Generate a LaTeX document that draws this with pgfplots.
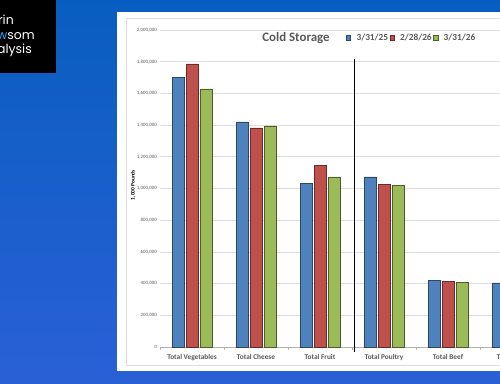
\documentclass[border=0pt]{standalone}
\usepackage{pgfplots}
\pgfplotsset{compat=1.18}
\usepackage{fontspec}
\setmainfont{Carlito}
\newfontfamily\logofont{Poppins}
\definecolor{xblue}{HTML}{4F81BD}
\definecolor{xred}{HTML}{C0504D}
\definecolor{xgreen}{HTML}{9BBB59}
\definecolor{txtgray}{HTML}{595959}
\definecolor{logoblue}{HTML}{2AA4F0}
\begin{document}
\begin{tikzpicture}
\path[use as bounding box] (0pt,0pt) rectangle (500pt,383pt);
\clip (0pt,0pt) rectangle (500pt,383pt);
\shade[top color={rgb,255:red,8;green,94;blue,192}, bottom color={rgb,255:red,42;green,96;blue,214}] (0pt,0pt) rectangle (500pt,383pt);
\fill[black] (0pt,310pt) rectangle (56pt,383pt);
\node[anchor=base east, text=white, font=\logofont\fontsize{12.5}{13}\selectfont, inner sep=0pt] at (14pt,358pt) {Darin};
\node[anchor=base east, text=white, font=\logofont\fontsize{12.5}{13}\selectfont, inner sep=0pt] at (35pt,343.5pt) {{\color{logoblue}New}som};
\node[anchor=base east, text=white, font=\logofont\fontsize{12.5}{13}\selectfont, inner sep=0pt] at (32pt,329.5pt) {Analysis};
\fill[white] (117pt,12pt) rectangle (520pt,371pt);
\draw[black!13, line width=0.8pt] (126pt,18pt) rectangle (530pt,365pt);
\begin{axis}[
  at={(160pt,36pt)}, anchor=south west,
  scale only axis, width=384pt, height=317pt,
  xmin=-0.5, xmax=5.5, ymin=0, ymax=2000000,
  ybar=2pt, bar width=12pt,
  clip=false,
  axis lines*=left,
  y axis line style={draw=none},
  x axis line style={draw=black!30, line width=0.6pt},
  xtick={0,1,2,3,4,5},
  xticklabels={Total Vegetables, Total Cheese, Total Fruit, Total Poultry, Total Beef, Total Pork},
  major tick length=0pt,
  extra x ticks={-0.5,0.5,1.5,2.5,3.5,4.5,5.5},
  extra x tick labels={},
  extra x tick style={grid=none, tick align=outside, major tick length=3pt},
  every tick/.style={black!30},
  xticklabel style={anchor=north, inner sep=0pt, yshift=-7pt, font=\bfseries\fontsize{7.3}{8}\selectfont, text=txtgray},
  ytick={0,200000,...,2000000},
  scaled y ticks=false,
  yticklabel style={/pgf/number format/fixed, /pgf/number format/1000 sep={,}, /pgf/number format/assume math mode=true, anchor=east, inner sep=0pt, xshift=-3pt, font=\fontsize{4.9}{5}\selectfont, text=txtgray},
  ymajorgrids, grid style={black!13, line width=0.6pt},
  ylabel={1,000 Pounds},
  ylabel style={at={(axis description cs:-0.0703,0.511)}, anchor=center, font=\bfseries\fontsize{5.4}{6}\selectfont},
  legend style={at={(axis description cs:0.484,0.975)}, anchor=west, draw=none, fill=none, legend columns=3, font=\bfseries\fontsize{9.3}{10}\selectfont, text=txtgray, inner sep=0pt, nodes={inner sep=1.5pt}, /tikz/every odd column/.append style={column sep=4pt}},
  legend image code/.code={\draw[#1] (0pt,-2.2pt) rectangle (4.4pt,2.2pt);},
]
\addplot[fill=xblue, draw=xblue!55!black, line width=0.6pt] coordinates {(0,1699000) (1,1420000) (2,1030000) (3,1073000) (4,422000) (5,405000)};
\addplot[fill=xred, draw=xred!55!black, line width=0.6pt] coordinates {(0,1786000) (1,1382000) (2,1148000) (3,1028000) (4,415000) (5,410000)};
\addplot[fill=xgreen, draw=xgreen!50!black, line width=0.6pt] coordinates {(0,1628000) (1,1395000) (2,1073000) (3,1022000) (4,406000) (5,398000)};
\legend{3/31/25, 2/28/26, 3/31/26}
\draw[black, line width=1.4pt] (axis cs:2.54,1817000) -- (axis cs:2.54,-30000);
\end{axis}
\node[anchor=base, font=\bfseries\fontsize{12.9}{14}\selectfont, text=txtgray, inner sep=0pt] at (296pt,341pt) {Cold Storage};
\end{tikzpicture}
\end{document}
